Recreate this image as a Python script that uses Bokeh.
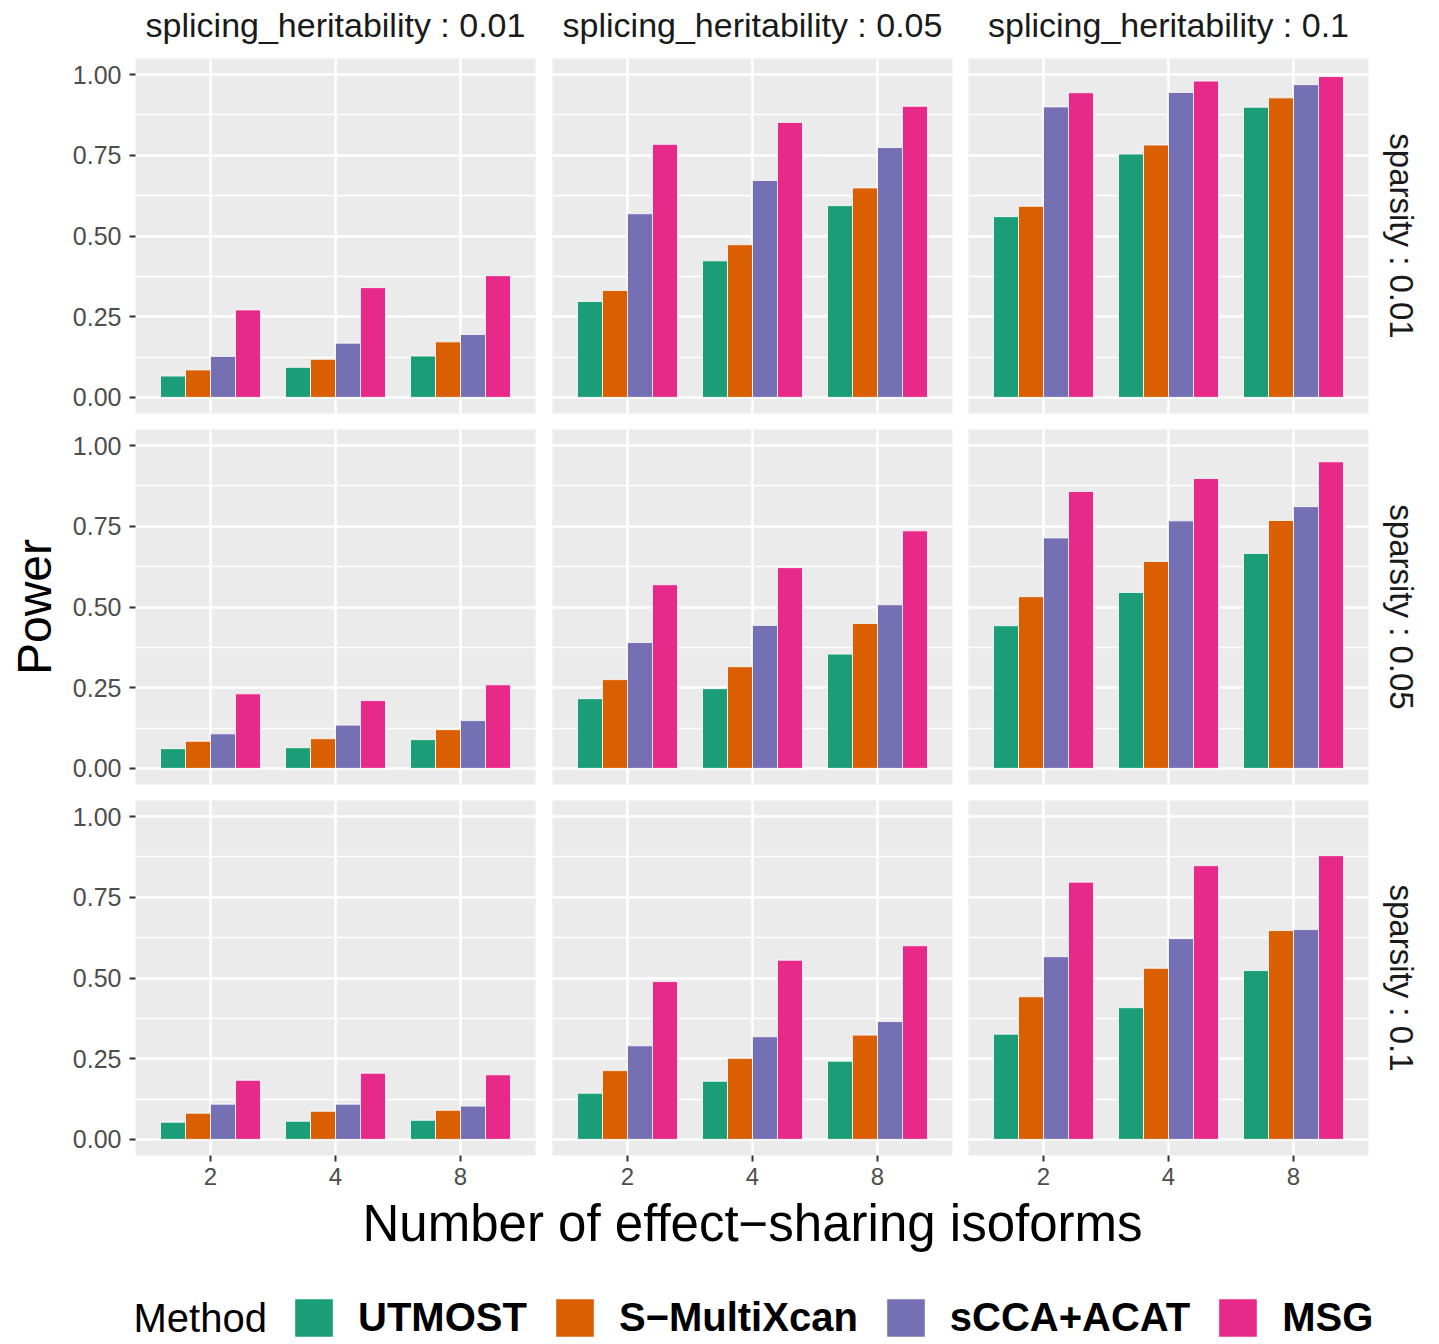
from bokeh.plotting import figure
from bokeh.models import Range1d, FixedTicker, Title, Legend, LegendItem, Label, ColumnDataSource
from bokeh.layouts import row, column
from bokeh.transform import dodge
from bokeh.embed import file_html
from bokeh.resources import INLINE

FONT = "Liberation Sans"

methods = ["UTMOST", "S\u2212MultiXcan", "sCCA+ACAT", "MSG"]
colors = ["#1B9E77", "#D95F02", "#7570B3", "#E7298A"]
isoforms = ["2", "4", "8"]
heritability = ["0.01", "0.05", "0.1"]
sparsity = ["0.01", "0.05", "0.1"]
ytick_values = [0.0, 0.25, 0.5, 0.75, 1.0]
ytick_labels = ["0.00", "0.25", "0.50", "0.75", "1.00"]

# power[sparsity][heritability][isoforms]
utmost = [
    [[0.066, 0.093, 0.128], [0.297, 0.423, 0.594], [0.560, 0.754, 0.899]],
    [[0.061, 0.064, 0.089], [0.216, 0.247, 0.354], [0.442, 0.545, 0.666]],
    [[0.053, 0.056, 0.059], [0.143, 0.180, 0.242], [0.326, 0.408, 0.523]],
]
smultixcan = [
    [[0.085, 0.118, 0.172], [0.331, 0.473, 0.649], [0.592, 0.782, 0.928]],
    [[0.084, 0.092, 0.120], [0.275, 0.315, 0.449], [0.532, 0.641, 0.768]],
    [[0.081, 0.087, 0.090], [0.213, 0.251, 0.323], [0.442, 0.530, 0.647]],
]
scca_acat = [
    [[0.127, 0.168, 0.195], [0.569, 0.672, 0.774], [0.900, 0.945, 0.969]],
    [[0.107, 0.134, 0.148], [0.390, 0.443, 0.507], [0.714, 0.767, 0.811]],
    [[0.109, 0.109, 0.103], [0.290, 0.318, 0.365], [0.566, 0.622, 0.650]],
]
msg = [
    [[0.271, 0.340, 0.377], [0.784, 0.852, 0.902], [0.944, 0.980, 0.994]],
    [[0.231, 0.210, 0.259], [0.569, 0.622, 0.736], [0.858, 0.898, 0.950]],
    [[0.183, 0.205, 0.200], [0.489, 0.555, 0.600], [0.797, 0.848, 0.879]],
]
series = [utmost, smultixcan, scca_acat, msg]
cols = ["utmost", "smultixcan", "scca_acat", "msg"]
offsets = [-0.3, -0.1, 0.1, 0.3]

FW, FH = 400, 355
left_b = [135, 0, 0]
right_b = [17, 16, 69]
bottom_b = [16, 16, 40]
TOTAL_W = sum(left_b) + sum(right_b) + 3 * FW
STRIP_H = 58

# horizontal centre of each panel column, from the layout borders
col_centers = []
acc = 0
for c in range(3):
    col_centers.append(acc + left_b[c] + FW / 2)
    acc += left_b[c] + FW + right_b[c]

# top facet strips
strip = figure(width=TOTAL_W, height=STRIP_H, output_backend="svg", toolbar_location=None,
               x_axis_location=None, y_axis_location=None, title=None,
               x_range=Range1d(0, 1), y_range=Range1d(0, 1),
               min_border=0, outline_line_color=None,
               background_fill_color="white", border_fill_color="white")
strip.xgrid.visible = False
strip.ygrid.visible = False
for c in range(3):
    strip.add_layout(Label(x=col_centers[c], y=STRIP_H - 24, x_units="screen", y_units="screen",
                           text="splicing_heritability : " + heritability[c],
                           text_align="center", text_baseline="middle",
                           text_font=FONT, text_font_size="34px", text_color="#1A1A1A"))

rows = [strip]
for r in range(3):
    figs = []
    for c in range(3):
        p = figure(
            frame_width=FW, frame_height=FH,
            x_range=Range1d(0.4, 3.6), y_range=Range1d(-0.05, 1.05),
            output_backend="svg", toolbar_location=None, title=None,
            x_axis_location="below" if r == 2 else None,
            y_axis_location="left" if c == 0 else None,
            min_border_left=left_b[c], min_border_right=right_b[c],
            min_border_top=0, min_border_bottom=bottom_b[r],
            background_fill_color="#EBEBEB", border_fill_color="white",
            outline_line_color=None,
        )
        xt = FixedTicker(ticks=[1, 2, 3], minor_ticks=[])
        yt = FixedTicker(ticks=ytick_values, minor_ticks=[0.125, 0.375, 0.625, 0.875])
        p.xgrid.ticker = xt
        p.ygrid.ticker = yt
        for g in (p.xgrid, p.ygrid):
            g.grid_line_color = "white"
            g.grid_line_width = 2.6
        p.ygrid.minor_grid_line_color = "white"
        p.ygrid.minor_grid_line_width = 1.3

        for ax in p.axis:
            ax.axis_line_color = None
            ax.major_tick_line_color = "#333333"
            ax.major_tick_line_width = 2
            ax.major_tick_out = 6
            ax.major_tick_in = 0
            ax.minor_tick_line_color = None
            ax.major_label_text_font = FONT
            ax.major_label_text_font_size = "24px"
            ax.major_label_text_color = "#4D4D4D"
            ax.major_label_standoff = 6
        if c == 0:
            ax = p.yaxis[0]
            ax.ticker = yt
            ax.major_label_overrides = {v: l for v, l in zip(ytick_values, ytick_labels)}
            ax.major_label_text_font_size = "25px"
            ax.major_label_standoff = 8
            if r == 1:
                ax.axis_label = "Power"
                ax.axis_label_text_font = FONT
                ax.axis_label_text_font_size = "48px"
                ax.axis_label_text_font_style = "normal"
                ax.axis_label_text_color = "black"
                ax.axis_label_standoff = 9
        if r == 2:
            ax = p.xaxis[0]
            ax.ticker = xt
            ax.major_label_overrides = {i + 1: s for i, s in enumerate(isoforms)}

        src = ColumnDataSource(dict(
            xi=[1, 2, 3],
            **{cols[k]: series[k][r][c] for k in range(4)},
        ))
        for k in range(4):
            p.vbar(x=dodge("xi", offsets[k], range=p.x_range), top=cols[k],
                   width=0.2, source=src, fill_color=colors[k],
                   line_color="white", line_width=0.8)

        if c == 2:
            p.add_layout(Title(text="sparsity : " + sparsity[r],
                               align="center", text_font=FONT,
                               text_font_size="33px", text_font_style="normal",
                               text_color="#1A1A1A", standoff=28), "right")
        figs.append(p)
    rows.append(row(*figs, spacing=0))

# bottom area: x-axis title and legend
BH = 146
bot = figure(width=TOTAL_W, height=BH, output_backend="svg", toolbar_location=None,
             x_axis_location=None, y_axis_location=None, title=None,
             x_range=Range1d(0, 1), y_range=Range1d(0, 1),
             min_border=0, outline_line_color=None,
             background_fill_color="white", border_fill_color="white")
bot.xgrid.visible = False
bot.ygrid.visible = False
bot.add_layout(Label(x=col_centers[1], y=BH - 28, x_units="screen", y_units="screen",
                     text="Number of effect\u2212sharing isoforms", text_font=FONT,
                     text_font_size="51px", text_align="center",
                     text_baseline="middle", text_color="black"))
items = []
for k in range(4):
    rr = bot.vbar(x=[0], top=[0], bottom=[0], width=0, fill_color=colors[k], line_color=None)
    items.append(LegendItem(label=methods[k], renderers=[rr]))
legend = Legend(items=items, orientation="horizontal", location=(290, 0),
                glyph_width=47, glyph_height=47, label_standoff=21, spacing=24,
                padding=0, margin=0, border_line_color=None,
                background_fill_alpha=0, label_height=47,
                label_text_font=FONT, label_text_font_size="40px",
                label_text_font_style="bold", label_text_color="black")
bot.add_layout(legend)
bot.add_layout(Label(x=133, y=24, x_units="screen", y_units="screen",
                     text="Method", text_font=FONT, text_font_size="40px",
                     text_baseline="middle", text_color="black"))

layout = column(*rows, bot, spacing=0)
open("out.html", "w").write(file_html(layout, INLINE))
